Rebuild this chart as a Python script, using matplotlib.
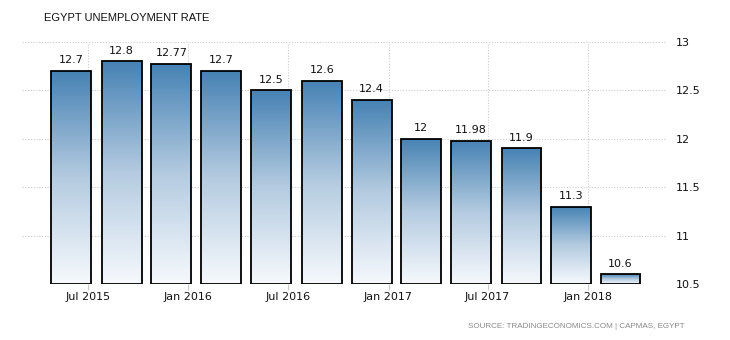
import numpy as np
import matplotlib
matplotlib.use("Agg")
import matplotlib.pyplot as plt
import matplotlib.dates as mdates
from matplotlib.colors import LinearSegmentedColormap
from matplotlib.patches import Rectangle

# quarterly unemployment rate
dates = ['2015-06-01', '2015-09-01', '2015-12-01', '2016-03-01', '2016-06-01', '2016-09-01',
         '2016-12-01', '2017-03-01', '2017-06-01', '2017-09-01', '2017-12-01', '2018-03-01']
values = [12.7, 12.8, 12.77, 12.7, 12.5, 12.6, 12.4, 12, 11.98, 11.9, 11.3, 10.6]
value_labels = ['12.7', '12.8', '12.77', '12.7', '12.5', '12.6', '12.4', '12', '11.98', '11.9', '11.3', '10.6']
tick_dates = ['2015-07-01', '2016-01-01', '2016-07-01', '2017-01-01', '2017-07-01', '2018-01-01']
tick_labels = ['Jul 2015', 'Jan 2016', 'Jul 2016', 'Jan 2017', 'Jul 2017', 'Jan 2018']
y_ticks = [10.5, 11, 11.5, 12, 12.5, 13]

x = mdates.datestr2num(dates)
xt = mdates.datestr2num(tick_dates)
bar_w = 73  # days
ymin, ymax = 10.5, 13

fig = plt.figure(figsize=(7.3, 3.4), dpi=100)
ax = fig.add_axes([22 / 730, 1 - 284 / 340, (667 - 22) / 730, (284 - 42) / 340])

cmap = LinearSegmentedColormap.from_list('bar', ['#f6f9fd', '#b4cbe0', '#4682b4'])
grad = np.linspace(0, 1, 256).reshape(-1, 1)

for xi, v, lab in zip(x, values, value_labels):
    x0 = xi - bar_w / 2
    rect = Rectangle((x0, ymin), bar_w, v - ymin, facecolor='none',
                     edgecolor='black', linewidth=1.3, zorder=3)
    ax.add_patch(rect)
    im = ax.imshow(grad, extent=[x0, x0 + bar_w, ymin, v], origin='lower',
                   cmap=cmap, aspect='auto', zorder=2, interpolation='bicubic')
    im.set_clip_path(rect)
    ax.text(xi, v + 0.06, lab, ha='center', va='bottom', fontsize=8, color='#111111')

ax.set_xlim(mdates.datestr2num('2015-03-03'), mdates.datestr2num('2018-05-25'))
ax.set_ylim(ymin, ymax)

ax.set_xticks(xt)
ax.set_xticklabels(tick_labels, fontsize=8, color='#111111')
ax.set_yticks(y_ticks)
ax.set_yticklabels(['10.5', '11', '11.5', '12', '12.5', '13'], fontsize=8, color='#111111')
ax.yaxis.tick_right()
ax.tick_params(axis='y', length=0, pad=6)
ax.tick_params(axis='x', length=4, color='#cccccc', pad=2)

ax.grid(True, color='#cccccc', linestyle=(0, (1, 1.5)), linewidth=0.8, zorder=0)
ax.set_axisbelow(True)
for s in ax.spines.values():
    s.set_visible(False)

fig.text(44 / 730, 1 - 18 / 340, 'EGYPT UNEMPLOYMENT RATE', fontsize=8, color='#111111',
         va='center', family='Liberation Sans')
fig.text(685 / 730, 1 - 326 / 340, 'SOURCE: TRADINGECONOMICS.COM | CAPMAS, EGYPT',
         fontsize=5.8, color='#888888', ha='right', va='center', family='Liberation Sans')

fig.savefig('out.png', dpi=100)
